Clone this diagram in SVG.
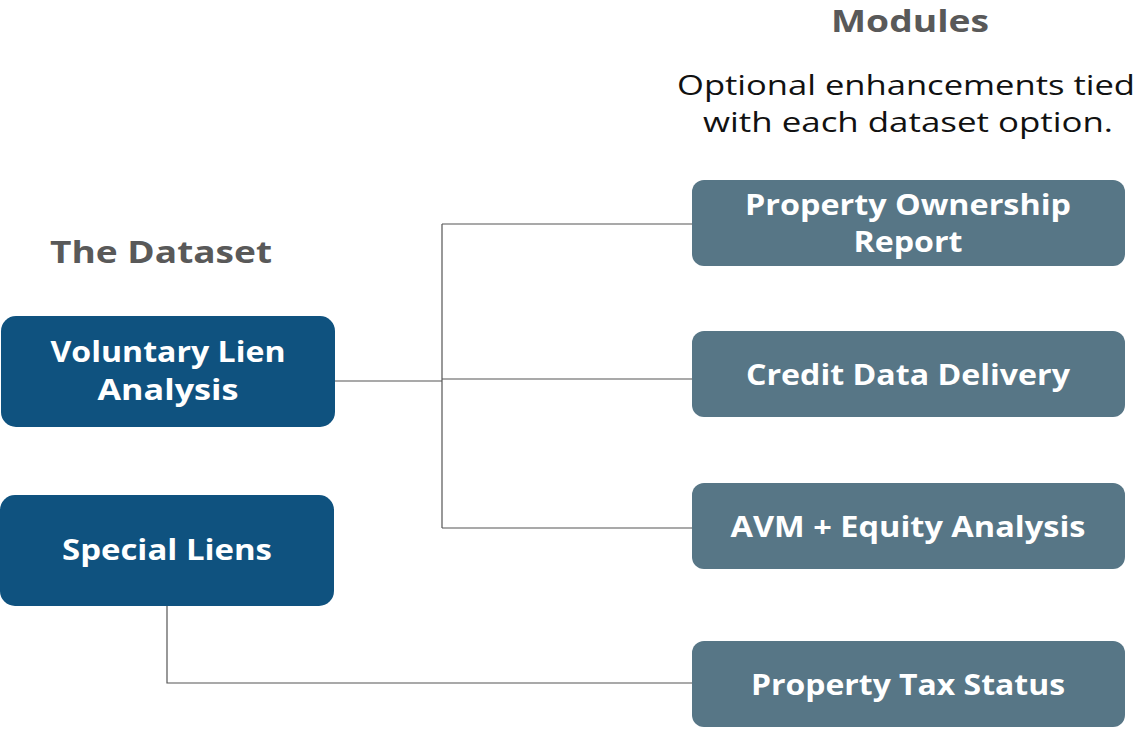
<svg xmlns="http://www.w3.org/2000/svg" width="1133" height="729" viewBox="0 0 1133 729">
<style>
.ds{fill:#0F527F}
.md{fill:#577686}
.nt{font-family:"Open Sans","Liberation Sans",sans-serif;font-weight:bold;font-size:29px;fill:#fff;text-anchor:middle}
.hd{font-family:"Open Sans","Liberation Sans",sans-serif;font-weight:bold;font-size:31px;fill:#595959;text-anchor:middle}
.sub{font-family:"Open Sans","Liberation Sans",sans-serif;font-size:28px;fill:#111;text-anchor:middle}
.cn{fill:none;stroke:#555;stroke-width:1.2}
</style>
<rect width="1133" height="729" fill="#fff"/>
<text class="hd" x="910" y="32" textLength="158" lengthAdjust="spacingAndGlyphs">Modules</text>
<text class="sub" x="906" y="95" textLength="458" lengthAdjust="spacingAndGlyphs">Optional enhancements tied</text>
<text class="sub" x="908" y="132" textLength="410" lengthAdjust="spacingAndGlyphs">with each dataset option.</text>
<text class="hd" x="161" y="263" textLength="222" lengthAdjust="spacingAndGlyphs">The Dataset</text>
<g id="connectors">
<path class="cn" d="M335 381H442M442 224V528M442 224H692M442 379H692M442 528H692"/>
<path class="cn" d="M167 606V683H692"/>
</g>
<g id="voluntary">
<rect class="ds" x="1" y="316" width="334" height="111" rx="15"/>
<text class="nt" x="168" y="362" textLength="235" lengthAdjust="spacingAndGlyphs">Voluntary Lien</text>
<text class="nt" x="168" y="400" textLength="141" lengthAdjust="spacingAndGlyphs">Analysis</text>
</g>
<g id="special">
<rect class="ds" x="0" y="495" width="334" height="111" rx="15"/>
<text class="nt" x="167" y="560" textLength="210" lengthAdjust="spacingAndGlyphs">Special Liens</text>
</g>
<g id="ownership">
<rect class="md" x="692" y="180" width="433" height="86" rx="12"/>
<text class="nt" x="908" y="215" textLength="326" lengthAdjust="spacingAndGlyphs">Property Ownership</text>
<text class="nt" x="908" y="252" textLength="109" lengthAdjust="spacingAndGlyphs">Report</text>
</g>
<g id="credit">
<rect class="md" x="692" y="331" width="433" height="86" rx="12"/>
<text class="nt" x="908" y="385" textLength="324" lengthAdjust="spacingAndGlyphs">Credit Data Delivery</text>
</g>
<g id="avm">
<rect class="md" x="692" y="483" width="433" height="86" rx="12"/>
<text class="nt" x="908" y="537" textLength="355" lengthAdjust="spacingAndGlyphs">AVM + Equity Analysis</text>
</g>
<g id="tax">
<rect class="md" x="692" y="641" width="433" height="86" rx="12"/>
<text class="nt" x="908" y="695" textLength="314" lengthAdjust="spacingAndGlyphs">Property Tax Status</text>
</g>
</svg>
